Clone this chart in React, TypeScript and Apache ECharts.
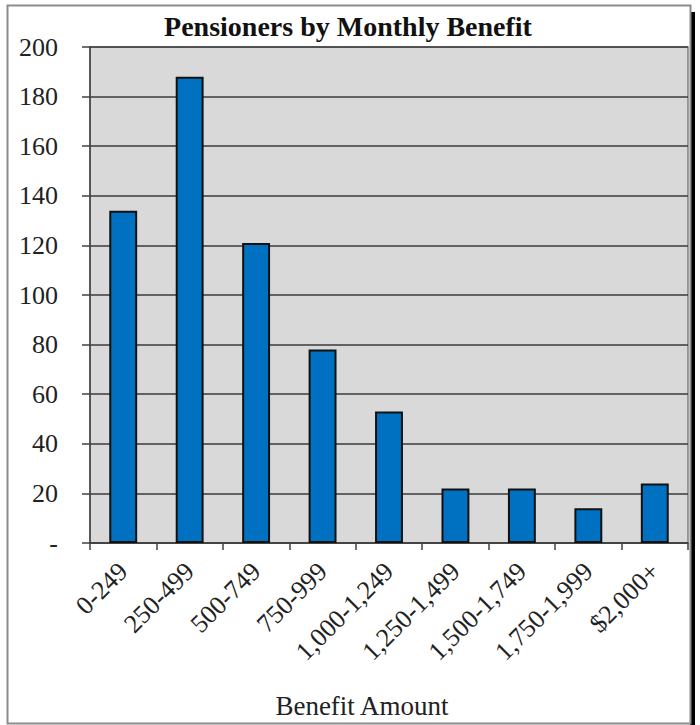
import React, { useEffect, useRef } from "react";
import * as echarts from "echarts";

const categories = ["0-249", "250-499", "500-749", "750-999", "1,000-1,249", "1,250-1,499", "1,500-1,749", "1,750-1,999", "$2,000+"];
const pensioners = [134, 188, 121, 78, 53, 22, 22, 14, 24];
const titleText = "Pensioners by Monthly Benefit";
const xAxisName = "Benefit Amount";

const FONT = "'Liberation Serif', 'Times New Roman', serif";

export default function App() {
  const ref = useRef<HTMLDivElement>(null);
  useEffect(() => {
    if (!ref.current) return;
    const chart = echarts.init(ref.current, null, { renderer: "svg" });
    chart.setOption({
      animation: false,
      backgroundColor: "#ffffff",
      title: {
        text: titleText,
        left: 348,
        textAlign: "center",
        top: 12,
        padding: 0,
        textStyle: { fontFamily: FONT, fontSize: 28, fontWeight: "bold", color: "#111" },
      },
      graphic: [
        {
          type: "rect",
          shape: { x: 690, y: 12, width: 5, height: 720 },
          style: { fill: "#000" },
          silent: true,
        },
        {
          type: "rect",
          shape: { x: 7.5, y: 5.5, width: 683, height: 718 },
          style: { fill: "none", stroke: "#8c8c8c", lineWidth: 2 },
          silent: true,
        },
      ],
      grid: {
        left: 90,
        right: 12,
        top: 47,
        bottom: 182,
        containLabel: false,
        outerBoundsMode: "none",
        show: true,
        backgroundColor: "#d9d9d9",
        borderColor: "#7f7f7f",
        borderWidth: 1.5,
      },
      xAxis: {
        type: "category",
        data: categories,
        boundaryGap: true,
        name: xAxisName,
        nameLocation: "middle",
        nameGap: 149,
        nameTextStyle: { fontFamily: FONT, fontSize: 27, color: "#222", padding: [0, 54, 0, 0] },
        axisLine: { show: true, lineStyle: { color: "#404040", width: 1.5 } },
        axisTick: { show: true, length: 7, lineStyle: { color: "#404040", width: 1.5 } },
        axisLabel: {
          rotate: 45,
          interval: 0,
          margin: 24,
          fontFamily: FONT,
          fontSize: 26,
          color: "#222",
        },
      },
      yAxis: {
        type: "value",
        min: 0,
        max: 200,
        interval: 20,
        axisLine: { show: true, lineStyle: { color: "#404040", width: 1.5 } },
        axisTick: { show: true, length: 8, lineStyle: { color: "#404040", width: 1.5 } },
        axisLabel: {
          margin: 32,
          fontFamily: FONT,
          fontSize: 26,
          color: "#222",
          formatter: (v: number) => (v === 0 ? "-" : String(v)),
        },
        splitLine: { show: true, lineStyle: { color: "#3a3a3a", width: 1.5 } },
      },
      series: [
        {
          type: "bar",
          data: pensioners,
          barWidth: "42%",
          itemStyle: { color: "#0070c0", borderColor: "#111", borderWidth: 2 },
        },
      ],
    });
    return () => chart.dispose();
  }, []);
  return (
    <div
      ref={ref}
      style={{ position: "absolute", left: 0, top: 0, width: 700, height: 725 }}
    />
  );
}
